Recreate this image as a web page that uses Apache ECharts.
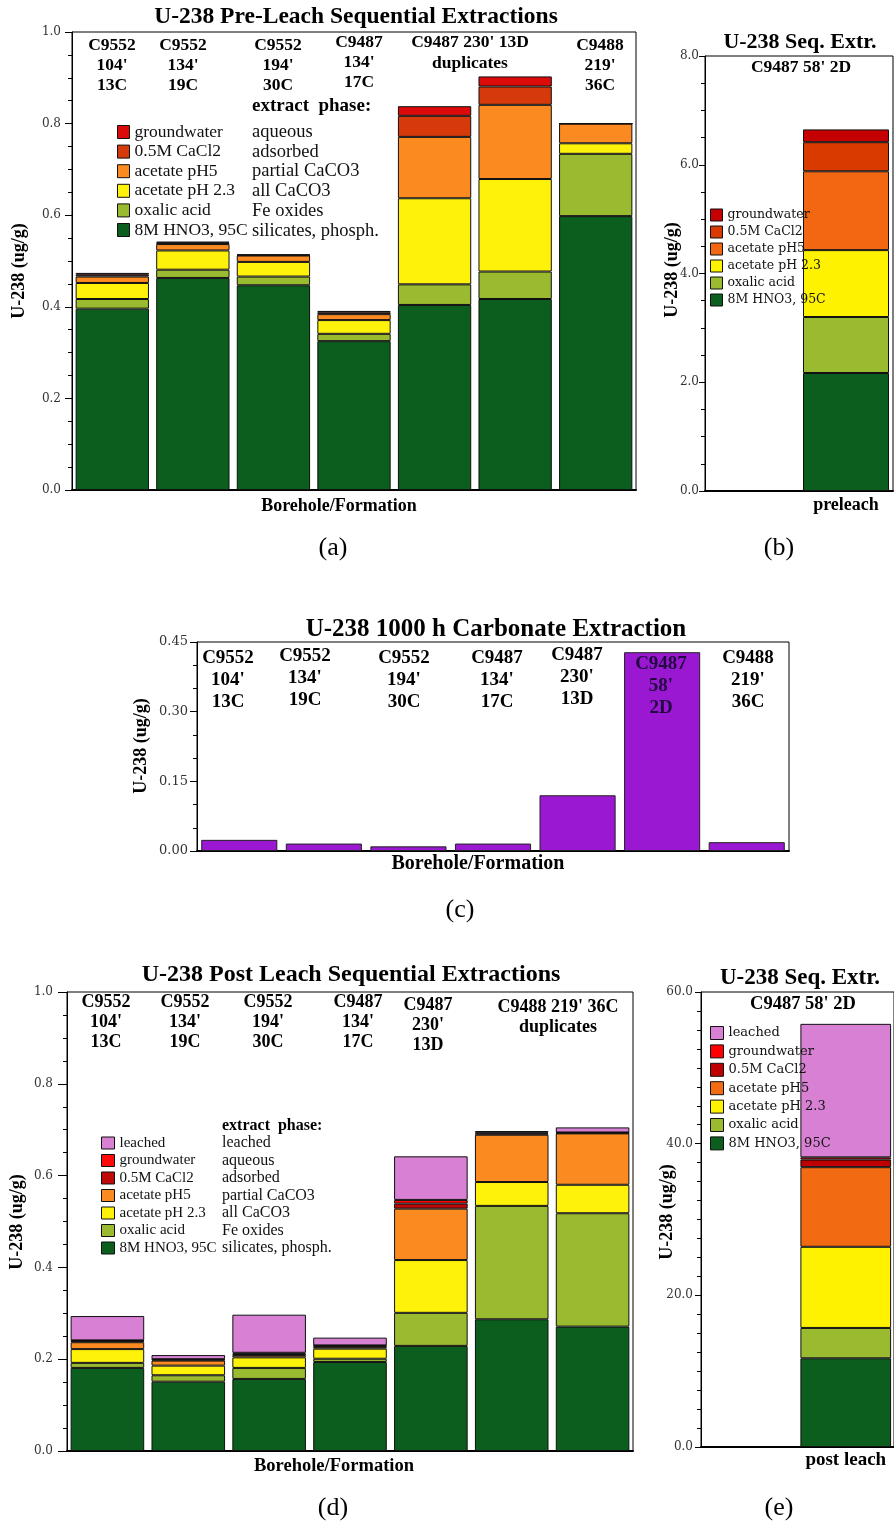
<!DOCTYPE html>
<html><head><meta charset="utf-8">
<script src="https://cdn.jsdelivr.net/npm/echarts@6/dist/echarts.min.js"></script>
<style>
html,body{margin:0;padding:0;background:#fff;}
.p{position:absolute;left:0;top:0;width:894px;height:1524px;}
</style>
</head><body>
<div id="pa" class="p"></div>
<div id="pb" class="p"></div>
<div id="pc" class="p"></div>
<div id="pd" class="p"></div>
<div id="pe" class="p"></div>
<script>
// ---------------- DATA ----------------
const fractions = ['8M HNO3, 95C','oxalic acid','acetate pH 2.3','acetate pH5','0.5M CaCl2','groundwater'];
const fractionsPost = ['8M HNO3, 95C','oxalic acid','acetate pH 2.3','acetate pH5','0.5M CaCl2','groundwater','leached'];
const phasesPre = ['aqueous','adsorbed','partial CaCO3','all CaCO3','Fe oxides','silicates, phosph.'];
const phasesPost = ['leached','aqueous','adsorbed','partial CaCO3','all CaCO3','Fe oxides','silicates, phosph.'];

// (a) pre-leach sequential extractions
const preCats = ["C9552 104' 13C","C9552 134' 19C","C9552 194' 30C","C9487 134' 17C","C9487 230' 13D (1)","C9487 230' 13D (2)","C9488 219' 36C"];
const preLabels = [["C9552","104'","13C"],["C9552","134'","19C"],["C9552","194'","30C"],["C9487","134'","17C"],["C9487 230' 13D","duplicates"],["C9488","219'","36C"]];
const pre_HNO3   = [0.396,0.463,0.447,0.325,0.404,0.417,0.598];
const pre_oxalic = [0.021,0.018,0.019,0.016,0.045,0.060,0.136];
const pre_pH23   = [0.035,0.042,0.032,0.030,0.188,0.202,0.023];
const pre_pH5    = [0.014,0.014,0.014,0.013,0.134,0.162,0.043];
const pre_CaCl2  = [0.004,0.003,0.001,0.004,0.046,0.040,0.000];
const pre_gw     = [0.004,0.002,0.001,0.003,0.021,0.022,0.000];

// (b) C9487 58' 2D preleach (order = fractions)
const seqPreCats = ['', 'preleach'];
const seqPreValues = [2.17, 1.03, 1.23, 1.45, 0.535, 0.235];

// (c) 1000 h carbonate extraction
const carbCats = ["C9552 104' 13C","C9552 134' 19C","C9552 194' 30C","C9487 134' 17C","C9487 230' 13D","C9487 58' 2D","C9488 219' 36C"];
const carbLabels = [["C9552","104'","13C"],["C9552","134'","19C"],["C9552","194'","30C"],["C9487","134'","17C"],["C9487","230'","13D"],["C9487","58'","2D"],["C9488","219'","36C"]];
const carbValues = [0.024, 0.016, 0.010, 0.016, 0.120, 0.428, 0.019];

// (d) post-leach sequential extractions
const postCats = ["C9552 104' 13C","C9552 134' 19C","C9552 194' 30C","C9487 134' 17C","C9487 230' 13D","C9488 219' 36C (1)","C9488 219' 36C (2)"];
const postLabels = [["C9552","104'","13C"],["C9552","134'","19C"],["C9552","194'","30C"],["C9487","134'","17C"],["C9487","230'","13D"],["C9488 219' 36C","duplicates"]];
const post_HNO3    = [0.181,0.151,0.157,0.194,0.229,0.287,0.271];
const post_oxalic  = [0.011,0.014,0.024,0.007,0.072,0.247,0.247];
const post_pH23    = [0.030,0.021,0.023,0.022,0.115,0.052,0.062];
const post_pH5     = [0.015,0.011,0.005,0.004,0.112,0.103,0.112];
const post_CaCl2   = [0.003,0.002,0.003,0.002,0.011,0.003,0.001];
const post_gw      = [0.001,0.001,0.002,0.001,0.008,0.002,0.001];
const post_leached = [0.053,0.009,0.083,0.017,0.095,0.003,0.011];

// (e) C9487 58' 2D post leach (order = fractionsPost)
const seqPostCats = ['', 'post leach'];
const seqPostValues = [11.7, 4.0, 10.7, 10.5, 1.0, 0.3, 17.6];

// ---------------- STYLE ----------------
const LIB = '"Liberation Serif", "Times New Roman", serif';
const DJV = '"DejaVu Serif", serif';
const colorsA = ['#0b5e1d','#9aba2f','#fff20a','#fb8b20','#d63a0a','#dd0a0a'];
const colorsB = ['#0b5e1d','#9aba2f','#fff200','#f26812','#d83a00','#c40000'];
const colorsD = ['#0b5e1d','#9aba2f','#fff20a','#fb8b20','#c00a0a','#ff0a0a','#d880d4'];
const colorsE = ['#0b5e1d','#9aba2f','#fff200','#f26a12','#c00000','#ff0000','#d880d4'];
const carbColor = '#9a18d2';

// label placement (pixels) kept apart from data
const preLabelPos  = [[112,45,20],[183,45,20],[278,45,20],[359,42,20],[470,42,21],[600,45,20]];
const carbLabelPos = [[228,658,22],[305,656,22],[404,658,22],[497,658,22],[577,655,22],[661,664,22],[748,658,22]];
const postLabelPos = [[106,1002,20],[185,1002,20],[268,1002,20],[358,1002,20],[428,1005,20],[558,1007,20]];

function T(x, y, text, size, o) {
  o = o || {};
  const font = (o.bold ? 'bold ' : '') + size + 'px ' + (o.family || LIB);
  return {type:'text', x:x, y:y, rotation:o.rot||0, silent:true, z:100,
    style:{text:text, font:font, fill:o.color||'#000',
      align:o.align||'center', verticalAlign:'middle',
      textAlign:o.align||'center', textVerticalAlign:'middle'}};
}
function labelTexts(labels, pos, size, color) {
  const out = [];
  labels.forEach((lines, i) => {
    lines.forEach((s, j) => out.push(T(pos[i][0], pos[i][1] + j*pos[i][2], s, size, {bold:true, color:color && color[i]})));
  });
  return out;
}
function columnTexts(list, x, y0, step, size, family) {
  return list.map((s,i) => T(x, y0 + i*step, s, size, {align:'left', family:family, color:'#111'}));
}
function yAx(min, max, interval, split, dec, o) {
  return {type:'value', min:min, max:max, interval:interval,
    axisLine:{show:true, lineStyle:{color:'#000', width:1}},
    axisTick:{show:true, length:o.tick, lineStyle:{color:'#000'}},
    minorTick:{show:true, splitNumber:split, length:4, lineStyle:{color:'#000'}},
    splitLine:{show:false}, minorSplitLine:{show:false},
    axisLabel:{formatter:v => v.toFixed(dec), fontFamily:o.family, fontSize:o.size, color:'#333', margin:o.margin}};
}
function catAx(data, label) {
  return {type:'category', data:data,
    axisTick:{show:false},
    axisLine:{lineStyle:{color:'#000', width:2}},
    axisLabel: label ? Object.assign({show:true, interval:0, color:'#000', fontFamily:LIB, fontWeight:'bold'}, label) : {show:false}};
}
function stackSeries(names, arrays, colors, gap) {
  return names.map((n,i) => ({name:n, type:'bar', stack:'s', data:arrays[i], barCategoryGap:gap,
    itemStyle:{color:colors[i], borderColor:'#111', borderWidth:1}, emphasis:{disabled:true}}));
}
function legendOf(names, o) {
  return {data:names.slice().reverse(), orient:'vertical', left:o.left, top:o.top, padding:0,
    itemWidth:o.w, itemHeight:o.h, itemGap:o.gap, icon:'rect', selectedMode:false,
    itemStyle:{borderColor:'#111', borderWidth:1},
    textStyle:{fontFamily:o.family, fontSize:o.size, color:'#111'}};
}
const grid = (l,t,w,h) => ({left:l, top:t, width:w, height:h, show:true, borderColor:'#000', borderWidth:1, containLabel:false});
const R = Math.PI/2;

// ---------------- (a) ----------------
echarts.init(document.getElementById('pa')).setOption({
  animation:false,
  grid: grid(72, 32, 564, 458),
  xAxis: catAx(preCats),
  yAxis: yAx(0, 1, 0.2, 4, 1, {tick:7, margin:11, size:12, family:DJV}),
  legend: legendOf(fractions, {left:117, top:123, w:12, h:13, gap:1.6, family:LIB, size:17.5}),
  series: stackSeries(fractions, [pre_HNO3, pre_oxalic, pre_pH23, pre_pH5, pre_CaCl2, pre_gw], colorsA, '9%'),
  graphic: [
    T(356, 17, 'U-238 Pre-Leach Sequential Extractions', 23.5, {bold:true}),
    T(19, 271, 'U-238 (ug/g)', 18, {bold:true, rot:R}),
    T(339, 506, 'Borehole/Formation', 18, {bold:true}),
    T(333, 548, '(a)', 26),
    T(252, 106, 'extract  phase:', 19, {bold:true, align:'left'})
  ].concat(labelTexts(preLabels, preLabelPos, 17.5), columnTexts(phasesPre, 252, 132, 19.8, 18.5, LIB))
});

// ---------------- (b) ----------------
echarts.init(document.getElementById('pb')).setOption({
  animation:false,
  grid: grid(705, 56, 188, 435),
  xAxis: catAx(seqPreCats, {fontSize:18, margin:5}),
  yAxis: yAx(0, 8, 2, 4, 1, {tick:6, margin:6, size:12, family:DJV}),
  legend: legendOf(fractions, {left:710, top:208.5, w:12, h:12, gap:4, family:DJV, size:12.5}),
  series: stackSeries(fractions, seqPreValues.map(v => ['-', v]), colorsB, '8.5%'),
  graphic: [
    T(800, 42, 'U-238 Seq. Extr.', 22, {bold:true}),
    T(801, 67, "C9487 58' 2D", 17.5, {bold:true}),
    T(672, 270, 'U-238 (ug/g)', 18, {bold:true, rot:R}),
    T(779, 548, '(b)', 26)
  ]
});

// ---------------- (c) ----------------
echarts.init(document.getElementById('pc')).setOption({
  animation:false,
  grid: grid(197, 642, 592, 209),
  xAxis: catAx(carbCats),
  yAxis: yAx(0, 0.45, 0.15, 3, 2, {tick:7, margin:9, size:13, family:DJV}),
  series: [{name:'carbonate leach', type:'bar', data:carbValues, barCategoryGap:'10%',
    itemStyle:{color:carbColor, borderColor:'#222', borderWidth:1}, emphasis:{disabled:true}}],
  graphic: [
    T(496, 630, 'U-238 1000 h Carbonate Extraction', 25, {bold:true}),
    T(141, 746, 'U-238 (ug/g)', 18, {bold:true, rot:R}),
    T(478, 864, 'Borehole/Formation', 20, {bold:true}),
    T(460, 910, '(c)', 26)
  ].concat(labelTexts(carbLabels, carbLabelPos, 19, [null,null,null,null,null,'#200a40',null]))
});

// ---------------- (d) ----------------
echarts.init(document.getElementById('pd')).setOption({
  animation:false,
  grid: grid(67, 992, 566, 459),
  xAxis: catAx(postCats),
  yAxis: yAx(0, 1, 0.2, 4, 1, {tick:9, margin:14, size:12, family:DJV}),
  legend: legendOf(fractionsPost, {left:101, top:1135.5, w:13, h:12, gap:2.5, family:LIB, size:15}),
  series: stackSeries(fractionsPost, [post_HNO3, post_oxalic, post_pH23, post_pH5, post_CaCl2, post_gw, post_leached], colorsD, '9%'),
  graphic: [
    T(351, 975, 'U-238 Post Leach Sequential Extractions', 24, {bold:true}),
    T(17, 1222, 'U-238 (ug/g)', 18, {bold:true, rot:R}),
    T(334, 1466, 'Borehole/Formation', 18.5, {bold:true}),
    T(333, 1508, '(d)', 26),
    T(222, 1126, 'extract  phase:', 16, {bold:true, align:'left'})
  ].concat(labelTexts(postLabels, postLabelPos, 18), columnTexts(phasesPost, 222, 1143, 17.5, 16, LIB))
});

// ---------------- (e) ----------------
echarts.init(document.getElementById('pe')).setOption({
  animation:false,
  grid: grid(701, 992, 200, 455),
  xAxis: catAx(seqPostCats, {fontSize:19, margin:4}),
  yAxis: yAx(0, 60, 20, 8, 1, {tick:6, margin:8, size:12, family:DJV}),
  legend: legendOf(fractionsPost, {left:710, top:1026, w:13, h:13, gap:4.4, family:DJV, size:13}),
  series: stackSeries(fractionsPost, seqPostValues.map(v => ['-', v]), colorsE, '6%'),
  graphic: [
    T(800, 978, 'U-238 Seq. Extr.', 23, {bold:true}),
    T(803, 1004, "C9487 58' 2D", 18.5, {bold:true}),
    T(667, 1212, 'U-238 (ug/g)', 18, {bold:true, rot:R}),
    T(779, 1508, '(e)', 26)
  ]
});
</script>
</body></html>
